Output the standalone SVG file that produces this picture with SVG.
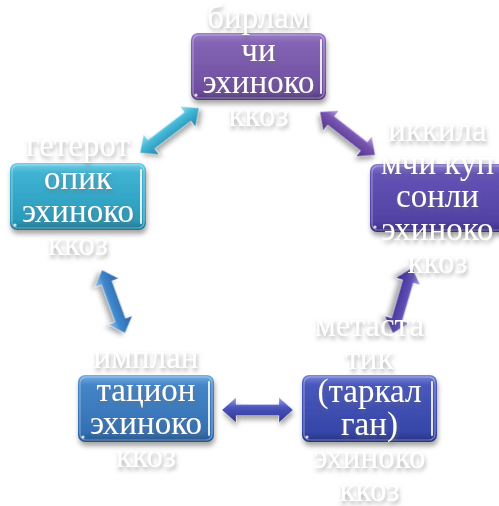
<svg xmlns="http://www.w3.org/2000/svg" width="499" height="506" viewBox="0 0 499 506">
  <defs>
    <!-- soft drop shadow for boxes and arrows -->
    <filter id="shadow" x="-20%" y="-20%" width="140%" height="160%">
      <feGaussianBlur in="SourceAlpha" stdDeviation="2.5"/>
      <feOffset dx="1" dy="4" result="b"/>
      <feFlood flood-color="#000" flood-opacity="0.35"/>
      <feComposite in2="b" operator="in"/>
      <feMerge><feMergeNode/><feMergeNode in="SourceGraphic"/></feMerge>
    </filter>
    <!-- white label text with grey halo -->
    <filter id="txt" x="-20%" y="-40%" width="140%" height="180%">
      <feGaussianBlur in="SourceAlpha" stdDeviation="2"/>
      <feOffset dx="1" dy="3" result="b"/>
      <feFlood flood-color="#6b6b6b" flood-opacity="0.55"/>
      <feComposite in2="b" operator="in"/>
      <feMerge><feMergeNode/><feMergeNode in="SourceGraphic"/></feMerge>
    </filter>
    <!-- glossy fills -->
    <linearGradient id="g1" x1="0" y1="0" x2="0" y2="1">
      <stop offset="0" stop-color="#9c80c8"/><stop offset="0.15" stop-color="#8364b4"/>
      <stop offset="0.85" stop-color="#6f4ea0"/><stop offset="1" stop-color="#54387e"/>
    </linearGradient>
    <linearGradient id="g2" x1="0" y1="0" x2="0" y2="1">
      <stop offset="0" stop-color="#78cfe6"/><stop offset="0.15" stop-color="#3fb2d2"/>
      <stop offset="0.85" stop-color="#2a9cbd"/><stop offset="1" stop-color="#1b7895"/>
    </linearGradient>
    <linearGradient id="g3" x1="0" y1="0" x2="0" y2="1">
      <stop offset="0" stop-color="#8c7ed0"/><stop offset="0.15" stop-color="#6453b6"/>
      <stop offset="0.85" stop-color="#5241a4"/><stop offset="1" stop-color="#3a2c80"/>
    </linearGradient>
    <linearGradient id="g4" x1="0" y1="0" x2="0" y2="1">
      <stop offset="0" stop-color="#7ab0e2"/><stop offset="0.15" stop-color="#4485c8"/>
      <stop offset="0.85" stop-color="#3470b4"/><stop offset="1" stop-color="#24558e"/>
    </linearGradient>
    <linearGradient id="g5" x1="0" y1="0" x2="0" y2="1">
      <stop offset="0" stop-color="#7c88d8"/><stop offset="0.15" stop-color="#4857bc"/>
      <stop offset="0.85" stop-color="#3646a8"/><stop offset="1" stop-color="#263282"/>
    </linearGradient>
    <!-- arrow fills (across the shaft) -->
    <linearGradient id="a12" x1="0" y1="0" x2="0" y2="1">
      <stop offset="0" stop-color="#9be0f2"/><stop offset="0.4" stop-color="#44b8d8"/><stop offset="1" stop-color="#2186a8"/>
    </linearGradient>
    <linearGradient id="a13" x1="0" y1="0" x2="0" y2="1">
      <stop offset="0" stop-color="#b9a4e0"/><stop offset="0.4" stop-color="#7653b0"/><stop offset="1" stop-color="#4f3488"/>
    </linearGradient>
    <linearGradient id="a35" x1="0" y1="0" x2="0" y2="1">
      <stop offset="0" stop-color="#a99ee2"/><stop offset="0.4" stop-color="#5c4ab4"/><stop offset="1" stop-color="#3a2c88"/>
    </linearGradient>
    <linearGradient id="a24" x1="0" y1="0" x2="0" y2="1">
      <stop offset="0" stop-color="#2c64a8"/><stop offset="0.6" stop-color="#3e86cc"/><stop offset="1" stop-color="#9cc8f0"/>
    </linearGradient>
    <linearGradient id="a45" x1="0" y1="0" x2="0" y2="1">
      <stop offset="0" stop-color="#9aa4ea"/><stop offset="0.4" stop-color="#4a54bc"/><stop offset="1" stop-color="#2e3690"/>
    </linearGradient>
    <style>
      .box { filter: url(#shadow); }
      .edge { fill: none; stroke: #ffffff; stroke-opacity: 0.35; stroke-width: 1.2; }
      .shine { stroke: #ffffff; stroke-width: 2; stroke-linecap: round; stroke-opacity: 0.85; }
      .dot { fill: #ffffff; fill-opacity: 0.8; }
      .lbl { font-family: "Liberation Serif", "Times New Roman", serif; font-size: 33px; fill: #ffffff; text-anchor: middle; filter: url(#txt); }
      .arr { filter: url(#shadow); stroke: #ffffff; stroke-opacity: 0.3; stroke-width: 0.8; }
    </style>
  </defs>

  <!-- connectors: double-headed block arrows -->
  <g id="connectors">
    <g transform="translate(169.5 130.5) rotate(-37.3)">
      <path class="arr" fill="url(#a12)" d="M-37 0 L-23 -12.5 L-23 -5.5 L23 -5.5 L23 -12.5 L37 0 L23 12.5 L23 5.5 L-23 5.5 L-23 12.5 Z"/>
    </g>
    <g transform="translate(347.5 133.5) rotate(38)">
      <path class="arr" fill="url(#a13)" d="M-35 0 L-21 -12.5 L-21 -5.5 L21 -5.5 L21 -12.5 L35 0 L21 12.5 L21 5.5 L-21 5.5 L-21 12.5 Z"/>
    </g>
    <g transform="translate(402.5 300.5) rotate(106.3)">
      <path class="arr" fill="url(#a35)" d="M-34 0 L-20 -12.5 L-20 -5.5 L20 -5.5 L20 -12.5 L34 0 L20 12.5 L20 5.5 L-20 5.5 L-20 12.5 Z"/>
    </g>
    <g transform="translate(113.5 301.5) rotate(70)">
      <path class="arr" fill="url(#a24)" d="M-33.5 0 L-20 -12.5 L-20 -5.5 L20 -5.5 L20 -12.5 L33.5 0 L20 12.5 L20 5.5 L-20 5.5 L-20 12.5 Z"/>
    </g>
    <g transform="translate(257.5 410)">
      <path class="arr" fill="url(#a45)" d="M-35.5 0 L-21.5 -12.5 L-21.5 -5.5 L21.5 -5.5 L21.5 -12.5 L35.5 0 L21.5 12.5 L21.5 5.5 L-21.5 5.5 L-21.5 12.5 Z"/>
    </g>
  </g>

  <!-- top node -->
  <g id="node-birlamchi">
    <rect class="box" x="191" y="33" width="135" height="67" rx="7" fill="url(#g1)"/>
    <rect class="edge" x="193" y="35" width="131" height="63" rx="6"/>
    <line class="shine" x1="321" y1="40" x2="321" y2="93"/>
    <circle class="dot" cx="196" cy="95" r="1.6"/>
    <text class="lbl" x="258.5" y="28">бирлам</text>
    <text class="lbl" x="258.5" y="60.5">чи</text>
    <text class="lbl" x="258.5" y="93">эхиноко</text>
    <text class="lbl" x="258.5" y="125.5">ккоз</text>
  </g>

  <!-- left node -->
  <g id="node-geterotopik">
    <rect class="box" x="10" y="163" width="136" height="67" rx="7" fill="url(#g2)"/>
    <rect class="edge" x="12" y="165" width="132" height="63" rx="6"/>
    <line class="shine" x1="141" y1="170" x2="141" y2="223"/>
    <circle class="dot" cx="15" cy="225" r="1.6"/>
    <text class="lbl" x="78" y="156">гетерот</text>
    <text class="lbl" x="78" y="189">опик</text>
    <text class="lbl" x="78" y="222">эхиноко</text>
    <text class="lbl" x="78" y="255">ккоз</text>
  </g>

  <!-- right node -->
  <g id="node-ikkilamchi">
    <rect class="box" x="370" y="164" width="136" height="68" rx="7" fill="url(#g3)"/>
    <rect class="edge" x="372" y="166" width="132" height="64" rx="6"/>
    <circle class="dot" cx="375" cy="227" r="1.6"/>
    <text class="lbl" x="437.5" y="141">иккила</text>
    <text class="lbl" x="437.5" y="174">мчи куп</text>
    <text class="lbl" x="437.5" y="207">сонли</text>
    <text class="lbl" x="437.5" y="240">эхиноко</text>
    <text class="lbl" x="437.5" y="273">ккоз</text>
  </g>

  <!-- bottom-left node -->
  <g id="node-implantatsion">
    <rect class="box" x="78" y="375" width="136" height="67" rx="7" fill="url(#g4)"/>
    <rect class="edge" x="80" y="377" width="132" height="63" rx="6"/>
    <line class="shine" x1="209" y1="382" x2="209" y2="435"/>
    <circle class="dot" cx="83" cy="437" r="1.6"/>
    <text class="lbl" x="146" y="368">имплан</text>
    <text class="lbl" x="146" y="401">тацион</text>
    <text class="lbl" x="146" y="434">эхиноко</text>
    <text class="lbl" x="146" y="467">ккоз</text>
  </g>

  <!-- bottom-right node -->
  <g id="node-metastatik">
    <rect class="box" x="302" y="375" width="135" height="67" rx="7" fill="url(#g5)"/>
    <rect class="edge" x="304" y="377" width="131" height="63" rx="6"/>
    <line class="shine" x1="432" y1="382" x2="432" y2="435"/>
    <circle class="dot" cx="307" cy="437" r="1.6"/>
    <text class="lbl" x="369.5" y="336">метаста</text>
    <text class="lbl" x="369.5" y="369">тик</text>
    <text class="lbl" x="369.5" y="402">(таркал</text>
    <text class="lbl" x="369.5" y="435">ган)</text>
    <text class="lbl" x="369.5" y="468">эхиноко</text>
    <text class="lbl" x="369.5" y="501">ккоз</text>
  </g>
</svg>
